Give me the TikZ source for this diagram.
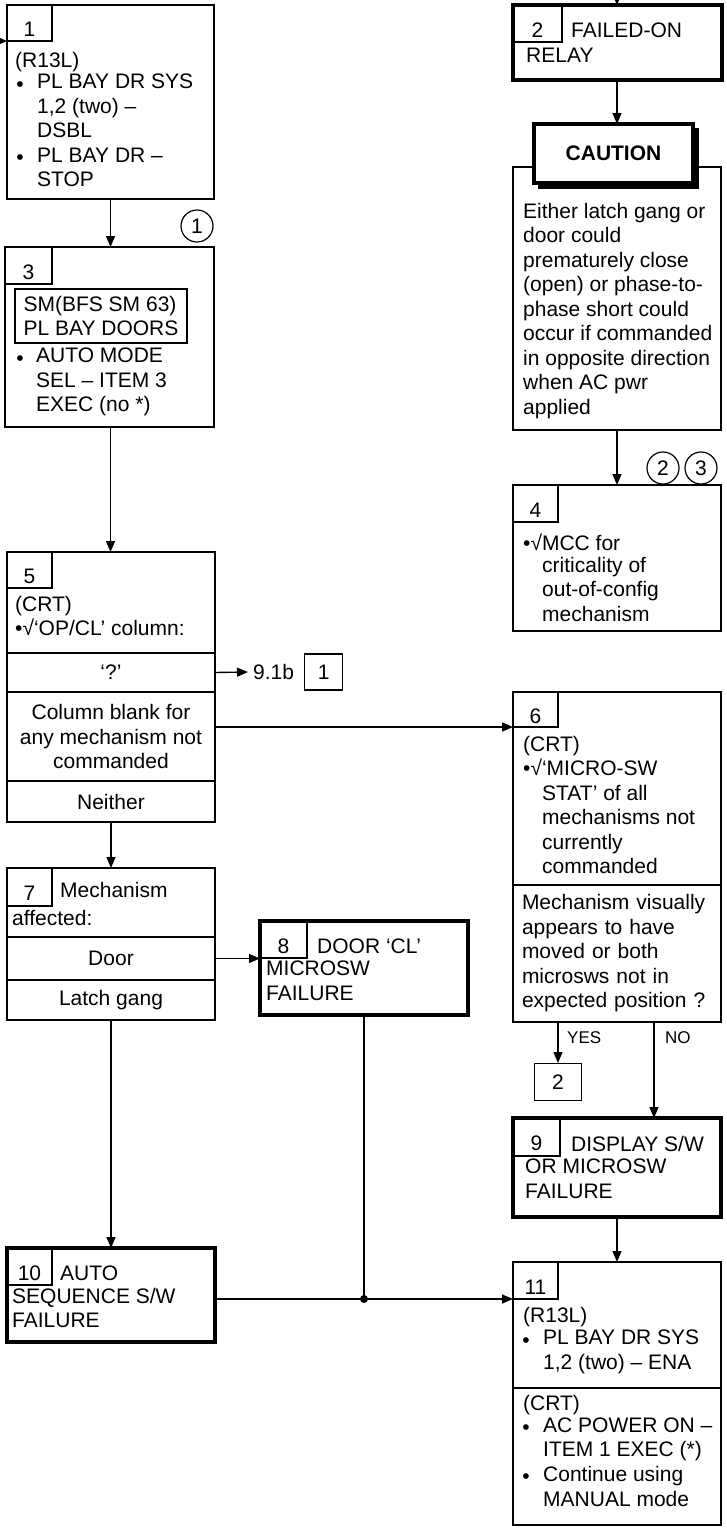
\documentclass[tikz,border=0pt]{standalone}
\usepackage{fontspec}
\setmainfont{Liberation Sans}
\usetikzlibrary{arrows.meta}

\begin{document}
\begin{tikzpicture}[x=1pt, y=-1pt,
    every node/.style={font=\fontsize{21}{24.5}\selectfont},
    caixa/.style 2 args={draw, line width=1.6pt, anchor=north west, inner sep=0pt, outer sep=0pt, minimum width=#1pt, minimum height=#2pt},
    gruixuda/.style={line width=4.5pt},
    pestanya/.style={draw, line width=1.2pt, anchor=north west, inner sep=0pt, outer sep=0pt, minimum width=45pt, minimum height=37pt, text height=27pt, text depth=0pt},
    fila/.style 2 args={draw, line width=1.6pt, anchor=north west, inner sep=0pt, outer sep=0pt, minimum width=#1pt, minimum height=#2pt, align=center},
    txt/.style={anchor=north west, yshift=17.15pt, inner sep=0pt, align=left, execute at begin node=\strut},
    punt/.style={anchor=base, inner sep=0pt},
    cercle/.style={draw, circle, line width=1.2pt, minimum size=32pt, inner sep=0pt},
    fletxa/.style={-{Triangle[length=11pt, width=9pt]}, line width=1.4pt},
    linia/.style={line width=1.4pt}]

    % Marges del full
    \useasboundingbox (0,0) rectangle (727,1532);

    % Pas 1
    \node[caixa={207}{194}] (b1) at (7,5) {};
    \node[pestanya, minimum height=36pt] (t1) at (7,5) {1};
    \node[txt] (b1a) at (15,67) {(R13L)};
    \node[punt] (b1p1) at (20,91) {•};
    \node[txt] (b1b) at (37,91) {PL BAY DR SYS\\1,2 (two) –\\DSBL};
    \node[punt] (b1p2) at (20,164.5) {•};
    \node[txt] (b1c) at (37,164.5) {PL BAY DR –\\STOP};
    \coordinate (in1) at (0,41);
    \draw[fletxa] (in1) -- (t1.south west);

    % Pas 2
    \node[caixa={209}{75}, gruixuda] (b2) at (513,5) {};
    \node[pestanya, minimum width=49pt] (t2) at (513,5) {2};
    \node[txt] (b2a) at (571,37) {FAILED-ON};
    \node[txt] (b2b) at (526,62) {RELAY};
    \coordinate (in2) at (617,0);
    \draw[fletxa] (in2) -- (b2.north -| in2);

    % Avis (CAUTION)
    \node[caixa={208}{263}] (cos) at (513,167) {};
    \node[caixa={159}{59}, fill=black] (ombra) at (539,129) {};
    \node[caixa={159}{59}, gruixuda, fill=white] (avis) at (534,124) {\textbf{CAUTION}};
    \node[txt] (avistxt) at (523,220) {Either latch gang or\\door could\\prematurely close\\(open) or phase-to-\\phase short could\\occur if commanded\\in opposite direction\\when AC pwr\\applied};
    \draw[fletxa] (b2.south -| in2) -- (avis.north -| in2);

    % Pas 4
    \node[cercle] (c2) at (663,468) {2};
    \node[cercle] (c3) at (701,468) {3};
    \node[caixa={208}{146}] (b4) at (513,485) {};
    \node[pestanya, line width=2.6pt] (t4) at (513,485) {4};
    \node[txt] (b4a) at (523,550) {•√MCC for};
    \node[txt] (b4b) at (542,574) {criticality of\\out-of-config\\mechanism};
    \draw[fletxa] (cos.south) -- (b4.north);

    % Pas 3
    \node[caixa={209}{180}] (b3) at (5,247) {};
    \node[pestanya, minimum width=47pt] (t3) at (5,247) {3};
    \node[cercle] (c1) at (197,226) {1};
    \node[draw, line width=1.6pt, anchor=north west, inner sep=0pt, outer sep=0pt, minimum width=172pt, minimum height=54pt, align=left] (sm) at (15,289) {SM(BFS SM 63)\\PL BAY DOORS};
    \node[punt] (b3p) at (20,365) {•};
    \node[txt] (b3a) at (36,365) {AUTO MODE\\SEL – ITEM 3\\EXEC (no *)};
    \draw[fletxa] (b1.south) -- (b1.south |- b3.north);

    % Pas 5
    \node[caixa={208}{270}] (b5) at (7,552) {};
    \node[pestanya, minimum height=36pt] (t5) at (7,552) {5};
    \node[txt] (b5a) at (15,613) {(CRT)\\•√‘OP/CL’ column:};
    \node[fila={208}{39}] (r5a) at (7,653) {‘?’};
    \node[fila={208}{89}] (r5b) at (7,692) {Column blank for\\any mechanism not\\commanded};
    \node[fila={208}{41}] (r5c) at (7,781) {Neither};
    \draw[fletxa] (b1.south |- b3.south) -- (b1.south |- b5.north);

    % Referencia 9.1b
    \node[inner sep=0pt, anchor=west] (ref91) at (253,672) {9.1b};
    \node[draw, line width=1.2pt, anchor=west, inner sep=0pt, minimum width=38pt, minimum height=36pt] (ref1) at (304,672) {1};
    \draw[fletxa] (r5a.east) -- ([xshift=-5pt]ref91.west);

    % Pas 6
    \node[caixa={208}{330}] (b6) at (513,692) {};
    \node[pestanya, minimum height=35pt] (t6) at (513,692) {6};
    \node[txt] (b6a) at (523,753) {(CRT)\\•√‘MICRO-SW};
    \node[txt] (b6b) at (542,802) {STAT’ of all\\mechanisms not\\currently\\commanded};
    \node[fila={208}{137}, text width=190pt, align=left] (r6) at (513,885) {Mechanism visually\\appears to have\\moved or both\\microsws not in\\expected position ?};
    \draw[fletxa] (t6.south west -| r5b.east) -- (t6.south west);

    % Sortides YES / NO
    \node[draw, line width=1.2pt, anchor=north, inner sep=0pt, minimum width=47pt, minimum height=37pt] (ref2) at (558,1063) {2};
    \node[txt, font=\fontsize{17}{20}\selectfont, yshift=-3pt] (lsi) at (567,1043) {YES};
    \node[txt, font=\fontsize{17}{20}\selectfont, yshift=-3pt] (lno) at (665,1043) {NO};
    \coordinate (xno) at (654,0);
    \draw[fletxa] (ref2.north |- r6.south) -- (ref2.north);

    % Pas 9
    \node[caixa={208}{99}, gruixuda] (b9) at (513,1118) {};
    \node[pestanya, minimum width=47pt, minimum height=38pt] (t9) at (513,1118) {9};
    \node[txt] (b9a) at (571,1151) {DISPLAY S/W};
    \node[txt] (b9b) at (525,1176) {OR MICROSW\\FAILURE};
    \draw[fletxa] (r6.south -| xno) -- (b9.north -| xno);

    % Pas 11
    \node[caixa={208}{263}] (b11) at (513,1262) {};
    \node[pestanya] (t11) at (513,1262) {11};
    \node[txt] (b11a) at (523,1322) {(R13L)};
    \node[punt] (b11p1) at (526,1347) {•};
    \node[txt] (b11b) at (543,1347) {PL BAY DR SYS\\1,2 (two) – ENA};
    \node[fila={208}{137}] (r11) at (513,1388) {};
    \node[txt] (b11c) at (523,1410) {(CRT)};
    \node[punt] (b11p2) at (526,1434.5) {•};
    \node[txt] (b11d) at (543,1434.5) {AC POWER ON –\\ITEM 1 EXEC (*)};
    \node[punt] (b11p3) at (526,1483.5) {•};
    \node[txt] (b11e) at (543,1483.5) {Continue using\\MANUAL mode};
    \draw[fletxa] (b9.south) -- (b11.north);

    % Pas 7
    \node[caixa={208}{152}] (b7) at (7,868) {};
    \node[pestanya, minimum height=38pt] (t7) at (7,868) {7};
    \node[txt] (b7a) at (60,897) {Mechanism};
    \node[txt] (b7b) at (12,925) {affected:};
    \node[fila={208}{43}] (r7a) at (7,937) {Door};
    \node[fila={208}{40}] (r7b) at (7,980) {Latch gang};
    \draw[fletxa] (r5c.south) -- (r5c.south |- b7.north);

    % Pas 8
    \node[caixa={208}{94}, gruixuda] (b8) at (260,921) {};
    \node[pestanya, minimum width=47pt] (t8) at (260,921) {8};
    \node[txt] (b8a) at (317,953) {DOOR ‘CL’};
    \node[txt] (b8b) at (266,978) {MICROSW\\FAILURE};
    \draw[fletxa] (r7a.east) -- (r7a.east -| b8.west);

    % Pas 10
    \node[caixa={208}{94}, gruixuda] (b10) at (7,1248) {};
    \node[pestanya] (t10) at (7,1248) {10};
    \node[txt] (b10a) at (60,1280) {AUTO};
    \node[txt] (b10b) at (12,1305) {SEQUENCE S/W\\FAILURE};
    \draw[fletxa] (r7b.south) -- (r7b.south |- b10.north);

    % Unio cap al pas 11
    \coordinate (nus) at (b8.south |- t11.south west);
    \draw[linia] (b8.south) -- (nus);
    \fill (nus) circle (4pt);
    \draw[fletxa] (nus -| b10.east) -- (t11.south west);

\end{tikzpicture}
\end{document}
